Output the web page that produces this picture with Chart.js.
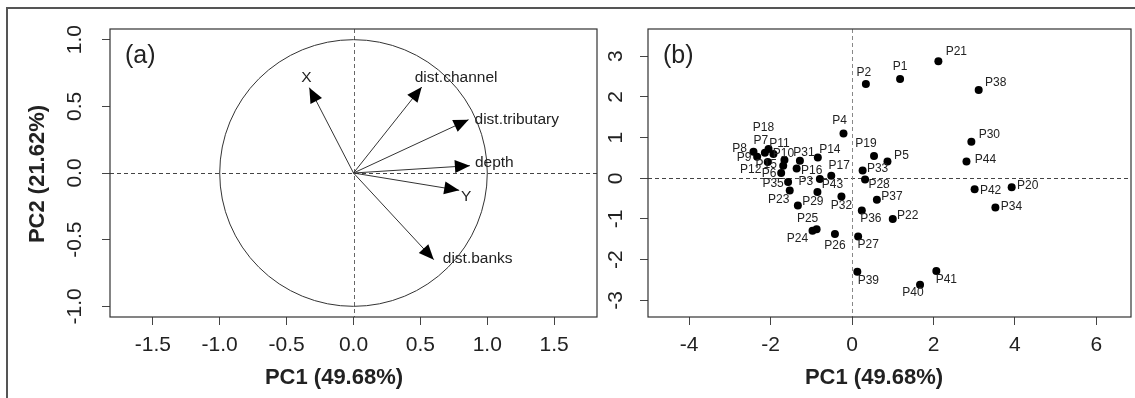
<!DOCTYPE html>
<html>
<head>
<meta charset="utf-8">
<script src="https://cdn.jsdelivr.net/npm/chart.js@4.4.0/dist/chart.umd.min.js"></script>
<style>
  html, body { margin: 0; padding: 0; background: #fff; }
  body { width: 1135px; height: 398px; position: relative; overflow: hidden; }
  #frame { position: absolute; left: 6px; top: 7px; width: 1200px; height: 500px;
           border-top: 2px solid #555; border-left: 2px solid #555; }
  #boxA { position: absolute; left: 0; top: 0; width: 600px; height: 398px; }
  #boxB { position: absolute; left: 600px; top: 0; width: 535px; height: 398px; }
</style>
</head>
<body>
<div id="frame"></div>
<div id="boxA"><canvas id="loadings"></canvas></div>
<div id="boxB"><canvas id="scores"></canvas></div>
<script>
// ---- data ----
const xTitle = 'PC1 (49.68%)';
const yTitle = 'PC2 (21.62%)';

// variable loadings (panel a)
const varNames = ['X', 'dist.channel', 'dist.tributary', 'depth', 'Y', 'dist.banks'];
const varPC1 = [-0.33, 0.51, 0.86, 0.87, 0.79, 0.60];
const varPC2 = [0.64, 0.645, 0.40, 0.055, -0.13, -0.65];

// site scores (panel b)
const siteNames = ['P1', 'P2', 'P3', 'P4', 'P5', 'P6', 'P7', 'P8', 'P9', 'P10',
  'P11', 'P12', 'P14', 'P15', 'P16', 'P17', 'P18', 'P19', 'P20', 'P21',
  'P22', 'P23', 'P24', 'P25', 'P26', 'P27', 'P28', 'P29', 'P30', 'P31',
  'P32', 'P33', 'P34', 'P35', 'P36', 'P37', 'P38', 'P39', 'P40', 'P41',
  'P42', 'P43', 'P44'];
const sitePC1 = [1.18, 0.34, -0.79, -0.21, 0.87, -1.74, -2.14, -2.42, -2.33, -1.66,
  -1.93, -2.07, -0.84, -1.69, -1.36, -0.51, -2.05, 0.54, 3.92, 2.12,
  1.00, -1.53, -0.97, -0.87, -0.42, 0.15, 0.32, -1.33, 2.93, -1.28,
  -0.26, 0.26, 3.52, -1.57, 0.24, 0.61, 3.11, 0.13, 1.67, 2.07,
  3.01, -0.85, 2.81];
const sitePC2 = [2.44, 2.32, -0.02, 1.10, 0.41, 0.13, 0.63, 0.65, 0.53, 0.45,
  0.60, 0.40, 0.51, 0.31, 0.24, 0.06, 0.72, 0.55, -0.22, 2.88,
  -1.00, -0.30, -1.29, -1.25, -1.37, -1.43, -0.03, -0.67, 0.90, 0.43,
  -0.45, 0.19, -0.72, -0.09, -0.79, -0.53, 2.17, -2.30, -2.62, -2.28,
  -0.27, -0.34, 0.41];

const ticksAx = [-1.5, -1, -0.5, 0, 0.5, 1, 1.5];
const ticksAy = [-1, -0.5, 0, 0.5, 1];
const ticksBx = [-4, -2, 0, 2, 4, 6];
const ticksBy = [-3, -2, -1, 0, 1, 2, 3];

// ---- layout / style ----
const fam = "'Liberation Sans', Arial, Helvetica, sans-serif";
const ink = '#222';

// label placement for loadings: [dx, dy, align] from arrow tip
const varLabelPos = {
  'X': [-3, -10, 'center'],
  'dist.channel': [-7, -9, 'left'],
  'dist.tributary': [6, 0, 'left'],
  'depth': [5, -3, 'left'],
  'Y': [7, 6, 'center'],
  'dist.banks': [9, -1, 'left']
};

// label placement for sites: [dx, dy] from point centre
const siteLabelPos = {
  P1: [0, -12], P2: [-2, -11], P3: [-14, 3], P4: [-4, -13], P5: [14, -6],
  P6: [-12, 1], P7: [-4, -12], P8: [-14, -3], P9: [-13, 1], P10: [-1, -6],
  P11: [6, -10], P12: [-17, 8], P14: [12, -8], P15: [-17, -1], P16: [15, 2],
  P17: [8, -10], P18: [-5, -21], P19: [-8, -12], P20: [16, -2], P21: [18, -9],
  P22: [15, -3], P23: [-11, 9], P24: [-15, 8], P25: [-9, -10], P26: [0, 12],
  P27: [10, 8], P28: [14, 5], P29: [15, -4], P30: [18, -7], P31: [4, -8],
  P32: [0, 9], P33: [15, -2], P34: [16, -1], P35: [-15, 2], P36: [9, 8],
  P37: [15, -3], P38: [17, -7], P39: [11, 9], P40: [-7, 8], P41: [10, 9],
  P42: [16, 1], P43: [15, -7], P44: [19, -2]
};

// ---- plugins ----
function frameBox() {
  return {
    id: 'frameBox',
    afterDraw(chart) {
      const {ctx, chartArea: a} = chart;
      ctx.save();
      ctx.strokeStyle = '#333';
      ctx.lineWidth = 1.2;
      ctx.strokeRect(a.left, a.top, a.right - a.left, a.bottom - a.top);
      ctx.restore();
    }
  };
}

function zeroLines(vColor, hColor) {
  return {
    id: 'zeroLines',
    beforeDatasetsDraw(chart) {
      const {ctx, chartArea: a, scales: {x, y}} = chart;
      const px = Math.round(x.getPixelForValue(0)) + 0.5;
      const py = Math.round(y.getPixelForValue(0)) + 0.5;
      ctx.save();
      ctx.lineWidth = 1;
      ctx.setLineDash([4, 3]);
      ctx.strokeStyle = hColor;
      ctx.beginPath(); ctx.moveTo(a.left, py); ctx.lineTo(a.right, py); ctx.stroke();
      ctx.strokeStyle = vColor;
      ctx.beginPath(); ctx.moveTo(px, a.top); ctx.lineTo(px, a.bottom); ctx.stroke();
      ctx.restore();
    }
  };
}

function yTickText(values, digits, offset) {
  return {
    id: 'yTickText',
    afterDraw(chart) {
      const {ctx, chartArea: a, scales: {y}} = chart;
      ctx.save();
      ctx.font = '21px ' + fam;
      ctx.fillStyle = ink;
      ctx.textAlign = 'center';
      ctx.textBaseline = 'middle';
      values.forEach(v => {
        ctx.save();
        ctx.translate(a.left - offset, y.getPixelForValue(v));
        ctx.rotate(-Math.PI / 2);
        ctx.fillText(v.toFixed(digits), 0, 0);
        ctx.restore();
      });
      ctx.restore();
    }
  };
}

function axisTitles(panel, xCenter, withY) {
  return {
    id: 'axisTitles',
    afterDraw(chart) {
      const {ctx} = chart;
      ctx.save();
      ctx.fillStyle = ink;
      ctx.textAlign = 'center';
      ctx.textBaseline = 'middle';
      ctx.font = 'bold 22px ' + fam;
      ctx.fillText(xTitle, xCenter, 378);
      if (withY) {
        ctx.translate(38, 174);
        ctx.rotate(-Math.PI / 2);
        ctx.fillText(yTitle, 0, 0);
      }
      ctx.restore();
      ctx.save();
      ctx.fillStyle = ink;
      ctx.font = '25px ' + fam;
      ctx.textAlign = 'left';
      ctx.textBaseline = 'middle';
      ctx.fillText(panel, chart.chartArea.left + 15, 56);
      ctx.restore();
    }
  };
}

const unitCircle = {
  id: 'unitCircle',
  beforeDatasetsDraw(chart) {
    const {ctx, scales: {x, y}} = chart;
    const cx = x.getPixelForValue(0), cy = y.getPixelForValue(0);
    const rx = x.getPixelForValue(1) - cx, ry = cy - y.getPixelForValue(1);
    ctx.save();
    ctx.strokeStyle = '#333';
    ctx.lineWidth = 1;
    ctx.beginPath();
    ctx.ellipse(cx, cy, rx, ry, 0, 0, Math.PI * 2);
    ctx.stroke();
    ctx.restore();
  }
};

const arrowHeads = {
  id: 'arrowHeads',
  afterDatasetsDraw(chart) {
    const {ctx} = chart;
    ctx.save();
    chart.data.datasets.forEach((ds, i) => {
      const pts = chart.getDatasetMeta(i).data;
      const p0 = pts[0], p1 = pts[1];
      const ang = Math.atan2(p1.y - p0.y, p1.x - p0.x);
      const len = 15, half = 6.5;
      ctx.fillStyle = '#000';
      ctx.beginPath();
      ctx.moveTo(p1.x, p1.y);
      ctx.lineTo(p1.x - len * Math.cos(ang) - half * Math.sin(ang),
                 p1.y - len * Math.sin(ang) + half * Math.cos(ang));
      ctx.lineTo(p1.x - len * Math.cos(ang) + half * Math.sin(ang),
                 p1.y - len * Math.sin(ang) - half * Math.cos(ang));
      ctx.closePath();
      ctx.fill();

      const [dx, dy, align] = varLabelPos[ds.label];
      ctx.font = '15.5px ' + fam;
      ctx.fillStyle = ink;
      ctx.textAlign = align;
      ctx.textBaseline = 'middle';
      ctx.fillText(ds.label, p1.x + dx, p1.y + dy);
    });
    ctx.restore();
  }
};

const siteLabels = {
  id: 'siteLabels',
  afterDatasetsDraw(chart) {
    const {ctx} = chart;
    const pts = chart.getDatasetMeta(0).data;
    ctx.save();
    ctx.font = '12px ' + fam;
    ctx.fillStyle = ink;
    ctx.textAlign = 'center';
    ctx.textBaseline = 'middle';
    pts.forEach((p, i) => {
      const name = siteNames[i];
      const [dx, dy] = siteLabelPos[name] || [12, 0];
      ctx.fillText(name, p.x + dx, p.y + dy);
    });
    ctx.restore();
  }
};

// ---- shared axis builders ----
function xAxis(min, max, ticks, digits) {
  return {
    type: 'linear', min: min, max: max,
    afterBuildTicks: s => { s.ticks = ticks.map(v => ({value: v})); },
    afterFit: s => { s.height = 81; },
    ticks: {
      font: {family: fam, size: 21}, color: ink, padding: 8,
      maxRotation: 0, autoSkip: false,
      callback: v => Number(v).toFixed(digits)
    },
    grid: {drawOnChartArea: false, drawTicks: true, tickLength: 8, color: '#444', lineWidth: 1},
    border: {display: false}
  };
}

function yAxis(min, max, ticks, width) {
  return {
    type: 'linear', min: min, max: max,
    afterBuildTicks: s => { s.ticks = ticks.map(v => ({value: v})); },
    afterFit: s => { s.width = width; },
    ticks: {display: false},
    grid: {drawOnChartArea: false, drawTicks: true, tickLength: 8, color: '#444', lineWidth: 1},
    border: {display: false}
  };
}

const common = {
  responsive: true,
  maintainAspectRatio: false,
  animation: false,
  events: [],
  plugins: {legend: {display: false}, tooltip: {enabled: false}}
};

// ---- panel (a): loadings ----
new Chart(document.getElementById('loadings'), {
  type: 'scatter',
  data: {
    datasets: varNames.map((n, i) => ({
      label: n,
      data: [{x: 0, y: 0}, {x: varPC1[i], y: varPC2[i]}],
      showLine: true,
      borderColor: '#333',
      borderWidth: 1,
      pointRadius: 0
    }))
  },
  options: Object.assign({}, common, {
    layout: {padding: {top: 29, right: 3, left: 0, bottom: 0}},
    scales: {
      x: xAxis(-1.82, 1.82, ticksAx, 1),
      y: yAxis(-1.08, 1.08, ticksAy, 110)
    }
  }),
  plugins: [zeroLines('#666', '#444'), unitCircle, arrowHeads, frameBox(),
            yTickText(ticksAy, 1, 35), axisTitles('(a)', 334, true)]
});

// ---- panel (b): site scores ----
new Chart(document.getElementById('scores'), {
  type: 'scatter',
  data: {
    datasets: [{
      label: 'sites',
      data: siteNames.map((n, i) => ({x: sitePC1[i], y: sitePC2[i]})),
      backgroundColor: '#000',
      borderWidth: 0,
      pointRadius: 4
    }]
  },
  options: Object.assign({}, common, {
    layout: {padding: {top: 29, right: 2, left: 0, bottom: 0}},
    scales: {
      x: xAxis(-5.01, 6.85, ticksBx, 0),
      y: yAxis(-3.41, 3.67, ticksBy, 48)
    }
  }),
  plugins: [zeroLines('#888', '#444'), siteLabels, frameBox(),
            yTickText(ticksBy, 0, 32), axisTitles('(b)', 274, false)]
});
</script>
</body>
</html>
